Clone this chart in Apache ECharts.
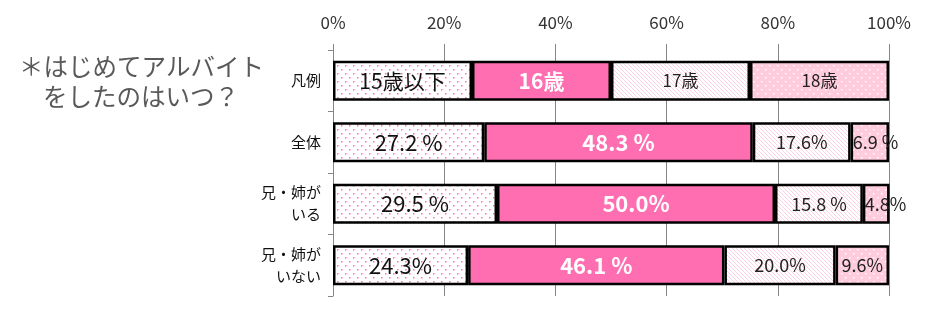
<!DOCTYPE html>
<html>
<head>
<meta charset="utf-8">
<script src="https://cdn.jsdelivr.net/npm/echarts@6/dist/echarts.min.js"></script>
<style>html,body{margin:0;padding:0;background:#fff;}#c{width:936px;height:319px;}</style>
</head>
<body>
<div id="c"></div>
<script>
var categories = ['凡例', '全体', '兄・姉が\nいる', '兄・姉が\nいない'];
var seriesNames = ['15歳以下', '16歳', '17歳', '18歳'];
var values15 = [25, 27.2, 29.5, 24.3];
var values16 = [25, 48.3, 50.0, 46.1];
var values17 = [25, 17.6, 15.8, 20.0];
var values18 = [25, 6.9, 4.8, 9.6];
var labels15 = ['15歳以下', '27.2 %', '29.5 %', '24.3%'];
var labels16 = ['16歳', '48.3 %', '50.0%', '46.1 %'];
var labels17 = ['17歳', '17.6%', '15.8 %', '20.0%'];
var labels18 = ['18歳', '6.9 %', '4.8%', '9.6%'];
var xTicks = [0, 20, 40, 60, 80, 100];

var FONT = '"Noto Sans CJK JP", "Noto Sans", sans-serif';

function makeDots(bg, dot) {
  var c = document.createElement('canvas');
  c.width = 8; c.height = 8;
  var g = c.getContext('2d');
  g.fillStyle = bg; g.fillRect(0, 0, 8, 8);
  g.fillStyle = dot;
  g.fillRect(1, 1, 1.5, 1.5);
  g.fillRect(5, 5, 1.5, 1.5);
  return c;
}
function makeHatch(bg, line) {
  var c = document.createElement('canvas');
  c.width = 4; c.height = 4;
  var g = c.getContext('2d');
  g.fillStyle = bg; g.fillRect(0, 0, 4, 4);
  g.fillStyle = line;
  for (var i = 0; i < 4; i++) { g.fillRect(i, i, 1, 1); }
  return c;
}

var fills = [
  { image: makeDots('#ffffff', '#ff6eb1'), repeat: 'repeat' },
  '#ff6eb1',
  { image: makeHatch('#ffffff', '#ffd0e3'), repeat: 'repeat' },
  { image: makeDots('#ffccdd', '#ffffff'), repeat: 'repeat' }
];
var allValues = [values15, values16, values17, values18];
var allLabels = [labels15, labels16, labels17, labels18];
var labelStyles = [
  { fontSize: 22, color: '#111', fontWeight: 'normal' },
  { fontSize: 22, color: '#ffffff', fontWeight: 'bold' },
  { fontSize: 18, color: '#222', fontWeight: 'normal' },
  { fontSize: 18, color: '#222', fontWeight: 'normal' }
];
var legendSizes = [21, 21, 17, 17];
// small segments whose label starts at the segment's left edge
var leftAligned = { '3-1': true, '3-2': true };

var series = seriesNames.map(function (name, si) {
  return {
    name: name,
    type: 'bar',
    stack: 'total',
    barWidth: 40,
    itemStyle: { color: fills[si], borderColor: '#000', borderWidth: 2.5 },
    label: {
      show: true,
      position: 'inside',
      fontFamily: FONT,
      fontSize: labelStyles[si].fontSize,
      fontWeight: labelStyles[si].fontWeight,
      color: labelStyles[si].color,
      formatter: function (p) { return allLabels[si][p.dataIndex]; }
    },
    data: allValues[si].map(function (v, i) {
      var d = { value: v };
      if (i === 0) { d.label = { fontSize: legendSizes[si] }; }
      if (leftAligned[si + '-' + i]) { d.label = { position: 'insideLeft', distance: 2 }; }
      return d;
    }),
    emphasis: { disabled: true }
  };
});

var chart = echarts.init(document.getElementById('c'), null, { renderer: 'canvas' });
chart.setOption({
  animation: false,
  backgroundColor: '#ffffff',
  grid: { left: 333, right: 47, top: 50, bottom: 23, containLabel: false },
  xAxis: {
    type: 'value',
    position: 'top',
    min: xTicks[0],
    max: xTicks[xTicks.length - 1],
    interval: xTicks[1] - xTicks[0],
    axisLine: { show: false },
    axisTick: { show: true, length: 6, lineStyle: { color: '#868686' } },
    splitLine: { show: true, lineStyle: { color: '#868686', width: 1 } },
    axisLabel: { formatter: '{value}%', fontFamily: FONT, fontSize: 17, color: '#333', margin: 19 }
  },
  yAxis: {
    type: 'category',
    inverse: true,
    data: categories,
    axisLine: { show: true, lineStyle: { color: '#868686' } },
    axisTick: { show: true, length: 5, lineStyle: { color: '#868686' } },
    axisLabel: { fontFamily: FONT, fontSize: 15, color: '#111', margin: 12, lineHeight: 22 }
  },
  graphic: [
    { type: 'text', left: 19, top: 54, style: { text: '＊はじめてアルバイト', font: '24.5px ' + FONT, fill: '#595959' } },
    { type: 'text', left: 43, top: 84, style: { text: 'をしたのはいつ？', font: '24.5px ' + FONT, fill: '#595959' } }
  ],
  series: series
});
</script>
</body>
</html>
